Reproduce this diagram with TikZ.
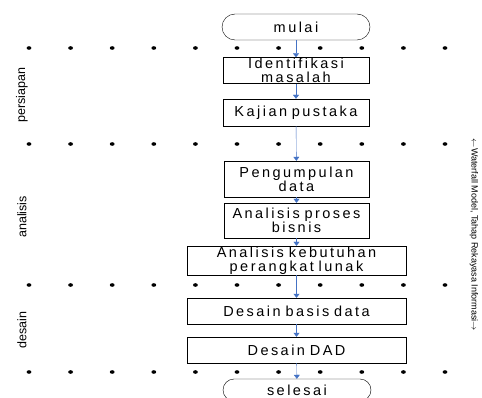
\documentclass[tikz,border=0pt]{standalone}
\usepackage{fontspec}
\setmainfont{Liberation Sans}
\newfontfamily\boxfont[LetterSpace=17]{Liberation Sans}
\usetikzlibrary{arrows.meta}
\definecolor{flowblue}{RGB}{68,114,196}
\newcommand{\boxtext}{\boxfont\fontsize{14.5}{14}\selectfont\spaceskip=6pt\relax}
\newcommand{\flowbox}[5][]{\node[draw,rectangle,inner sep=0pt,minimum width=#4,minimum height=26pt,text width=#4,align=center,font=\boxtext,#1] at (#2) (#3) {#5}}

\begin{document}
\begin{tikzpicture}[x=1pt,y=-1pt]
				\useasboundingbox (0,0) rectangle (482,398);
				\foreach \rowy in {48,144,285,372}
					\foreach \i in {0,...,10}
						\fill (29+41.6*\i,\rowy) circle[x radius=2.4pt,y radius=1.8pt];
				\node[rotate=90,font=\fontsize{12.5}{14}\selectfont] at (22,95) {persiapan};
				\node[rotate=90,font=\fontsize{12.5}{14}\selectfont] at (22,217) {analisis};
				\node[rotate=90,font=\fontsize{12.5}{14}\selectfont] at (22,330) {desain};
				\node[rotate=-90,font=\fontsize{9}{11}\selectfont] at (474,235) {$\leftarrow$Waterfall Model, Tahap Rekayasa Informasi$\rightarrow$};
				
				\flowbox[rounded corners=13pt]{296,27}{mulai}{148pt}{mulai};
				\flowbox{296,70.5}{idm}{146pt}{Identifikasi\\masalah};
				\flowbox[minimum height=27pt]{296,112.5}{kjp}{146pt}{Kajian pustaka};
				\flowbox[minimum height=36pt]{296.5,179}{pgd}{145pt}{Pengumpulan\\data};
				\flowbox[minimum height=35pt]{296.5,220.5}{apb}{145pt}{Analisis proses\\bisnis};
				\flowbox[minimum height=29pt]{296.5,260.5}{akp}{219pt}{Analisis kebutuhan\\perangkat lunak};
				\flowbox{296.5,311}{dbd}{219pt}{Desain basis data};
				\flowbox{296.5,350}{dad}{219pt}{Desain DAD};
				\flowbox[rounded corners=11pt,minimum height=22pt]{297,390}{selesai}{148pt}{selesai};
				
				\foreach \a/\b in {mulai/idm,idm/kjp,kjp/pgd,pgd/apb,apb/akp,akp/dbd,dbd/dad,dad/selesai}
					\draw[flowblue,-{Triangle[width=6pt,length=4pt]}] (\a) -- (\b);
				
\end{tikzpicture}
\end{document}
